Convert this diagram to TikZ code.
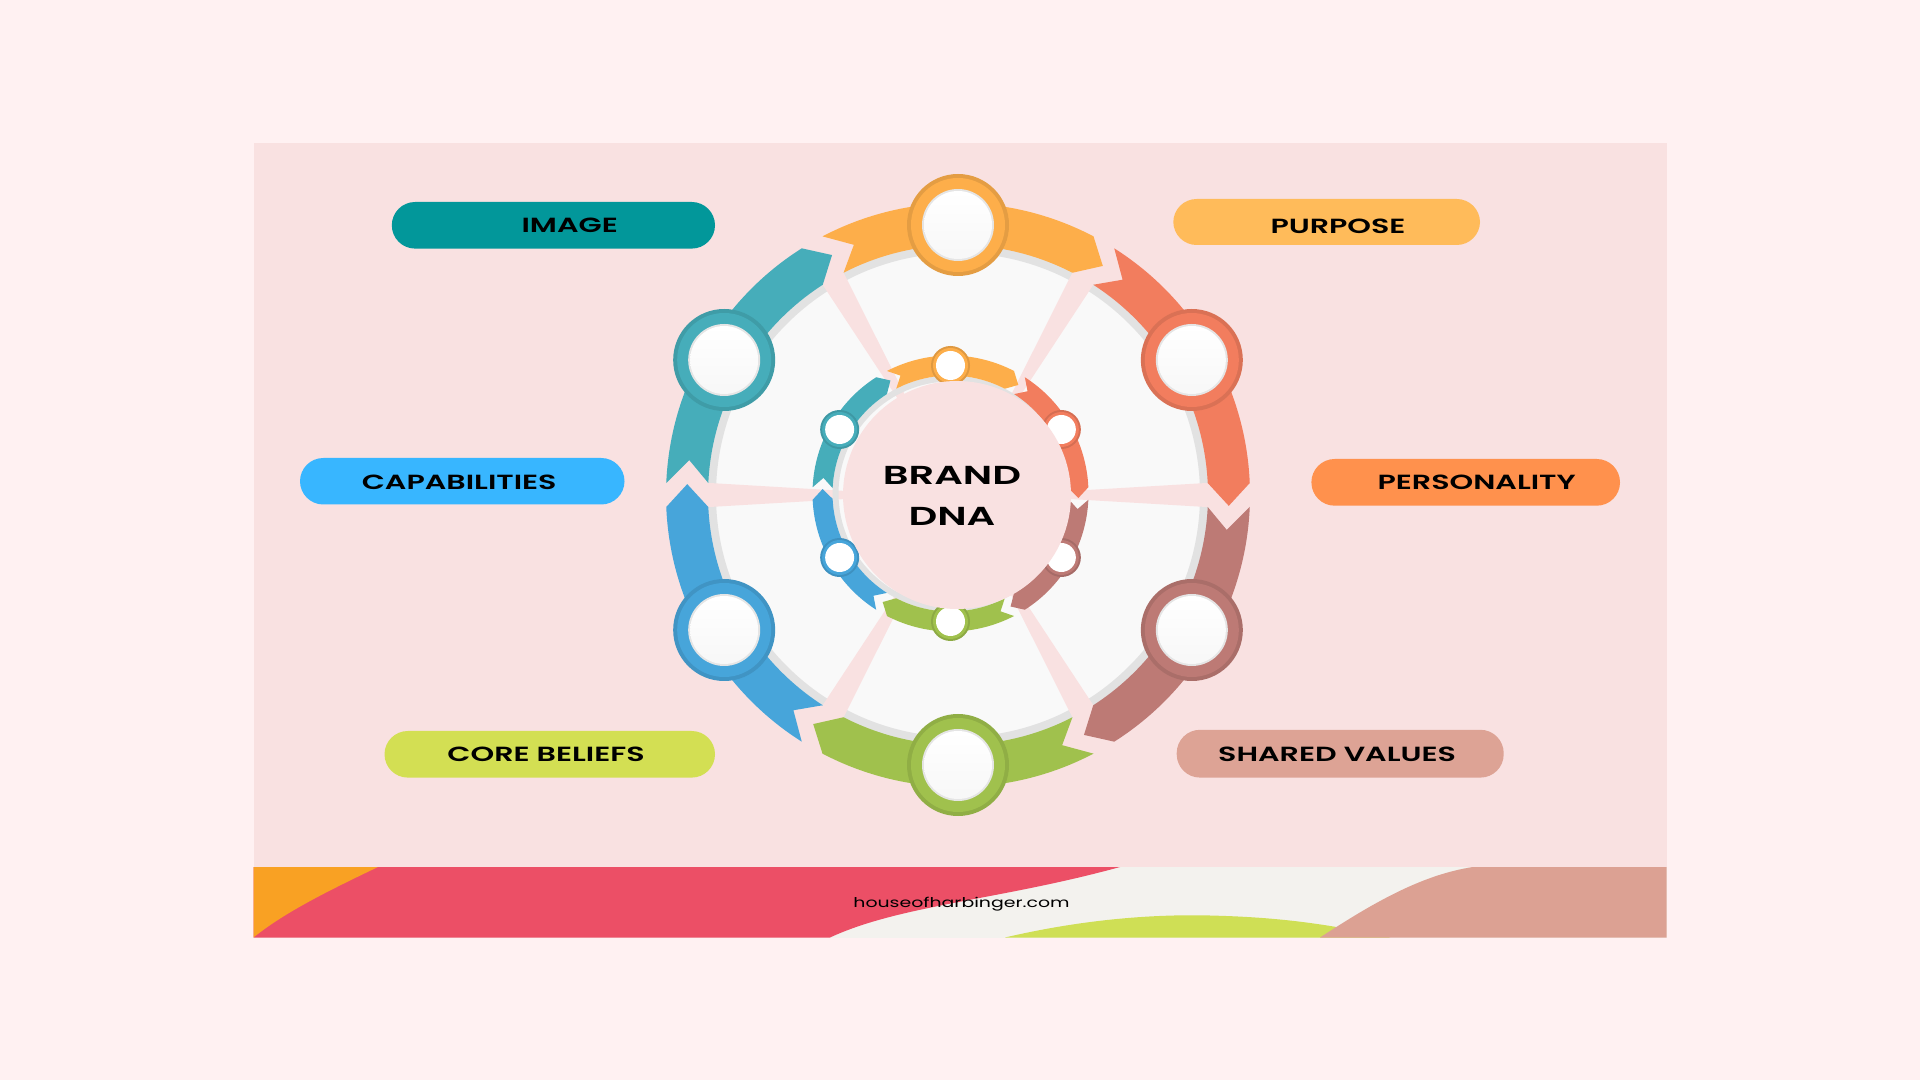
\documentclass[tikz,border=0pt]{standalone}
\usepackage{fontspec}
\newfontfamily\wide{Poppins}[FakeStretch=1.47, BoldFont={* SemiBold}]
\newfontfamily\widec{Poppins}[FakeStretch=1.54, BoldFont={* SemiBold}]
\newfontfamily\wideft{Poppins}[FakeStretch=1.4]
\usetikzlibrary{calc}
\definecolor{bgout}{HTML}{FFF1F2}
\definecolor{panel}{HTML}{F9E1E1}
\definecolor{sector}{HTML}{F9F9F9}
\definecolor{rim}{HTML}{E2E2E2}
\definecolor{bandA}{HTML}{FDAE4A}
\definecolor{bandB}{HTML}{F27D5E}
\definecolor{bandC}{HTML}{BD7A75}
\definecolor{bandD}{HTML}{A0C14D}
\definecolor{bandE}{HTML}{47A5DA}
\definecolor{bandF}{HTML}{46ADBA}
\definecolor{fOrange}{HTML}{F9A123}
\definecolor{fRed}{HTML}{EC4F66}
\definecolor{fWhite}{HTML}{F3F2EE}
\definecolor{fLime}{HTML}{CFDF55}
\definecolor{fSalmon}{HTML}{DCA193}
\definecolor{pTeal}{HTML}{02979A}
\definecolor{pYellow}{HTML}{FFBB5A}
\definecolor{pBlue}{HTML}{38B6FF}
\definecolor{pOrange}{HTML}{FF914D}
\definecolor{pLime}{HTML}{D3DF53}
\definecolor{pSalmon}{HTML}{DDA395}
\tikzset{
  pill/.style={rounded corners=23.3},
  lbl/.style={font=\wide\bfseries\fontsize{20.5}{24}\selectfont, text=black, inner sep=0pt},
  bigc/.style={circle, inner sep=0pt, minimum size=#1},
}
\begin{document}
\begin{tikzpicture}[x=1pt,y=1pt]
\useasboundingbox (0,0) rectangle (1920,1080);
\fill[bgout] (0,0) rectangle (1920,1080);
\fill[panel] (253.5,142.5) rectangle (1666.5,936.7);

% footer
\fill[fWhite] (253.5,142.5) rectangle (1666.5,213);
\fill[fLime] (1005,142.5) .. controls (1080,160) and (1150,166) .. (1210,164.5) .. controls (1270,163) and (1320,158) .. (1390,142.5) -- cycle;
\fill[fRed] (253.5,142.5) -- (253.5,213) -- (1120,213) .. controls (1000,180) and (900,175) .. (830,142.5) -- cycle;
\fill[fOrange] (253.5,213) -- (378,213) .. controls (330,190) and (285,168) .. (253.5,142.5) -- cycle;
\fill[fSalmon] (1320,142.5) .. controls (1370,175) and (1420,205) .. (1473,213) -- (1666.5,213) -- (1666.5,142.5) -- cycle;
\node[font=\wideft\fontsize{13.5}{16}\selectfont, anchor=base, inner sep=0pt] (site) at (961.5,173) {houseofharbinger.com};

% outer wheel
\begin{scope}[shift={(958,585)}]
  \fill[sector] (0,0) circle (251);
  \draw[rim, line width=9] (0,0) circle (246.5);
  \foreach \s in {0,60,...,300}{
    \fill[panel, rotate=\s] (95,-3) -- (262,-12.8) -- (262,12.8) -- (95,3) -- cycle;
  }
  \foreach \c/\col in {90/bandA,30/bandB,-30/bandC,-90/bandD,-150/bandE,150/bandF}{
    \pgfmathsetmacro\ta{\c+30-2.35}
    \pgfmathsetmacro\hb{\c-30+2.35}
    \pgfmathsetmacro\tip{\c-30-2.3}
    \pgfmathsetmacro\hbi{\c-30+2.75}
    \pgfmathsetmacro\tai{\c+30-2.75}
    \pgfmathsetmacro\notch{\c+30-7.4}
    \fill[\col] (\ta:292) arc[start angle=\ta, end angle=\hb, radius=292]
      -- (\tip:271) -- (\hbi:250) arc[start angle=\hbi, end angle=\tai, radius=250]
      -- (\notch:271) -- cycle;
  }
  \foreach \c/\col/\nm in {90/bandA/bA,30/bandB/bB,-30/bandC/bC,-90/bandD/bD,-150/bandE/bE,150/bandF/bF}{
    \node[bigc=102, fill=\col!90!black] (\nm) at (\c:270) {};
    \node[bigc=94, fill=\col] (\nm r) at (\c:270) {};
    \node[bigc=72, fill=black!10] (\nm g) at (\c:270) {};
    \node[bigc=68, top color=white, bottom color=black!3] (\nm w) at (\c:270) {};
  }
\end{scope}

% inner ring
\begin{scope}[shift={(950.5,586.5)}]
  \draw[rim, line width=6] (0,0) circle (115);
  \foreach \c/\col in {90/bandA,30/bandB,-30/bandC,-90/bandD,-150/bandE,150/bandF}{
    \pgfmathsetmacro\ta{\c+30-2.6}
    \pgfmathsetmacro\hb{\c-30+2.6}
    \pgfmathsetmacro\tip{\c-30-2}
    \pgfmathsetmacro\hbi{\c-30+2.6}
    \pgfmathsetmacro\tai{\c+30-2.6}
    \pgfmathsetmacro\notch{\c+30-7}
    \fill[\col] (\ta:138) arc[start angle=\ta, end angle=\hb, radius=138]
      -- (\tip:128) -- (\hbi:118) arc[start angle=\hbi, end angle=\tai, radius=118]
      -- (\notch:128) -- cycle;
  }
  \foreach \c/\col/\nm in {90/bandA/sA,30/bandB/sB,-30/bandC/sC,-90/bandD/sD,-150/bandE/sE,150/bandF/sF}{
    \node[bigc=39, fill=\col!88!black] (\nm) at (\c:128) {};
    \node[bigc=35, fill=\col] (\nm r) at (\c:128) {};
    \node[bigc=29, fill=white] (\nm w) at (\c:128) {};
  }
\end{scope}
\fill[panel] (957,585) circle (114);
\node[font=\widec\bfseries\fontsize{26}{41.7}\selectfont, align=center, inner sep=0pt] (dna) at (952,584) {BRAND\\DNA};

% labels
\fill[pTeal, pill] (391.8,831.4) rectangle (715,878);
\node[lbl] (image) at (569.7,854.2) {IMAGE};
\fill[pYellow, pill] (1173.3,835) rectangle (1480,881);
\node[lbl] (purpose) at (1338,853.7) {PURPOSE};
\fill[pBlue, pill] (300,575.5) rectangle (624.5,622);
\node[lbl] (capab) at (459.2,597.6) {CAPABILITIES};
\fill[pOrange, pill] (1311.4,574.3) rectangle (1620,621);
\node[lbl] (person) at (1476.7,597.6) {PERSONALITY};
\fill[pLime, pill] (384.5,302.4) rectangle (715,349);
\node[lbl] (core) at (546.1,325.7) {CORE BELIEFS};
\fill[pSalmon, pill] (1176.7,302.4) rectangle (1503.7,350.2);
\node[lbl] (shared) at (1337.1,325.7) {SHARED VALUES};
\end{tikzpicture}
\end{document}
